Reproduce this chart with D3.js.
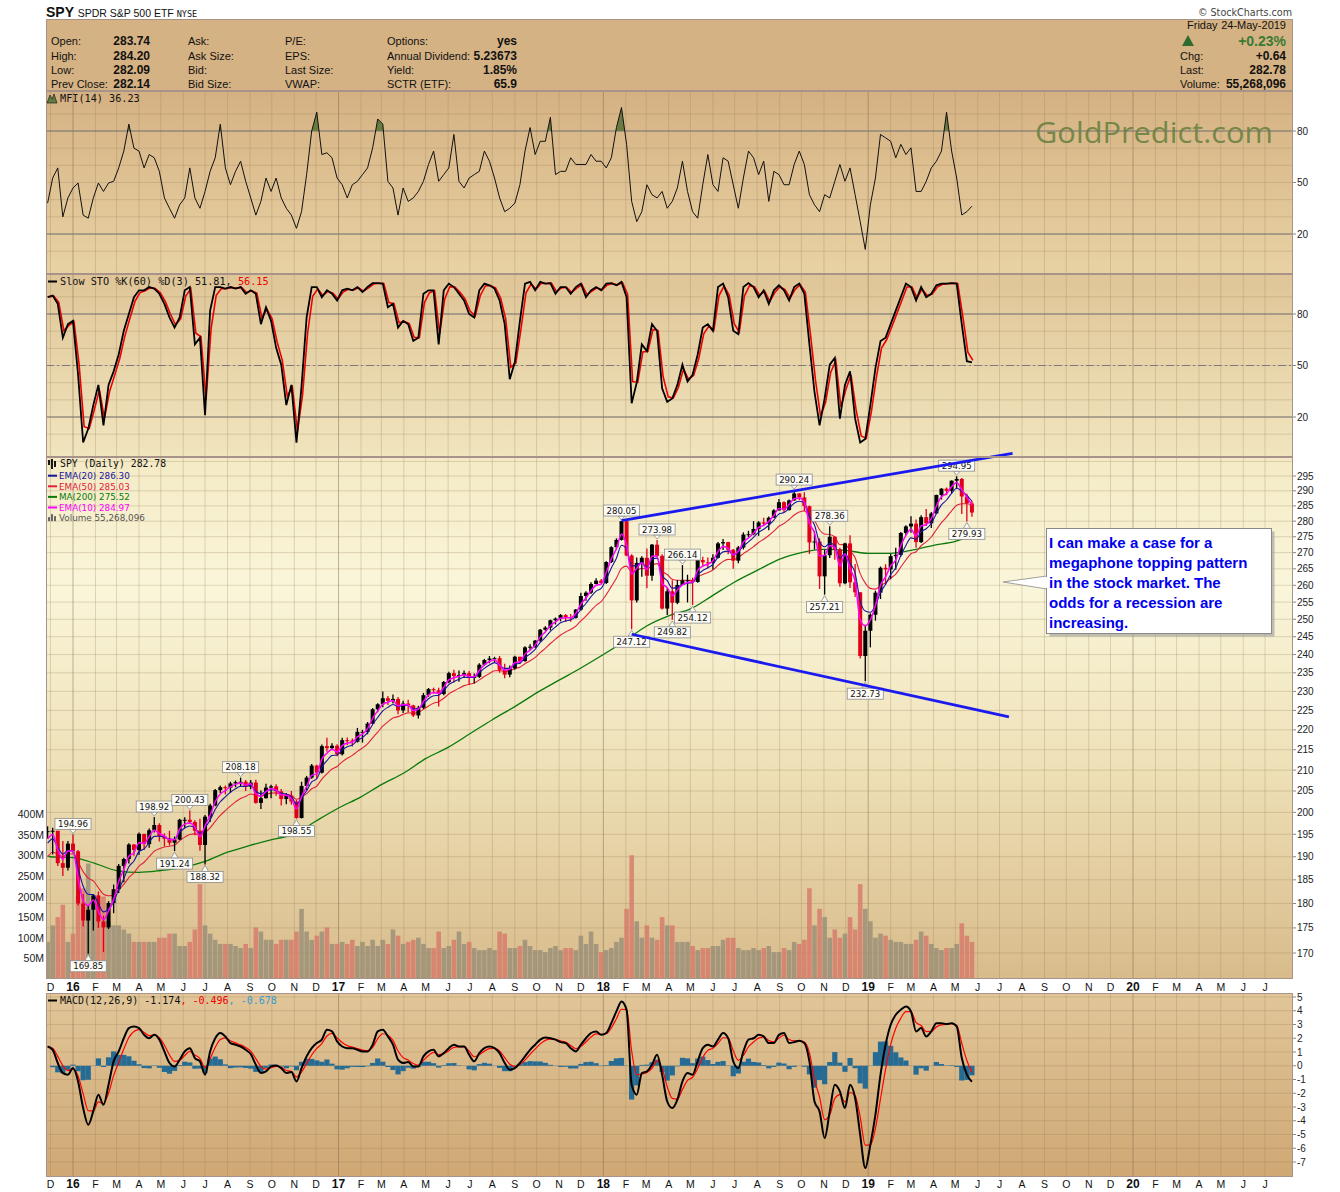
<!DOCTYPE html>
<html>
<head>
<meta charset="utf-8">
<title>SPY SPDR S&amp;P 500 ETF</title>
<script src="https://cdn.jsdelivr.net/npm/d3@7/dist/d3.min.js"></script>
<style>
  body { margin: 0; background: #fff; }
  text { font-family: "Liberation Sans", Arial, sans-serif; }
</style>
</head>
<body>
<script>
// weekly series, Fridays from 27-Nov-2015 to 24-May-2019 (183 weeks), prices dividend adjusted
var weekClose = [195.7,195.8,188.6,187.6,192.9,191.2,180.0,176.5,178.7,181.7,176.3,175.1,180.1,183.0,188.0,189.5,192.7,191.5,195.1,192.8,
  195.9,197.1,194.6,194.0,193.1,193.8,198.3,198.3,197.8,195.8,192.6,199.0,201.6,205.2,205.9,205.8,206.8,207.1,207.2,206.0,
  207.0,202.2,203.3,205.8,206.1,204.9,203.1,203.9,202.5,198.7,206.2,208.2,211.1,209.4,215.9,215.4,216.0,213.9,217.4,217.3,
  217.0,219.5,219.5,221.6,225.3,226.6,228.2,227.5,228.0,225.0,226.8,226.3,223.7,225.7,229.0,230.6,230.3,229.3,232.5,234.9,
  234.1,234.4,234.9,233.6,233.9,237.2,238.5,238.9,239.0,235.8,234.5,236.2,239.4,238.2,242.0,242.2,243.9,247.0,247.6,249.7,
  250.2,251.2,250.6,250.4,252.8,256.8,257.8,260.4,261.4,260.7,267.1,271.7,274.0,280.0,269.1,255.5,266.8,268.4,262.9,272.5,
  269.0,253.1,258.2,254.8,260.1,261.5,261.5,261.0,267.7,267.0,266.9,268.4,272.9,273.3,270.9,267.5,271.6,275.7,275.8,277.5,
  279.6,279.2,281.1,283.5,286.2,283.6,286.8,289.1,287.8,284.9,273.2,273.5,262.7,269.2,275.0,271.0,260.6,272.9,260.9,257.9,
  239.6,246.7,251.3,257.8,265.3,264.8,268.9,269.3,276.2,278.3,279.2,273.3,281.3,279.3,282.5,288.6,290.7,290.0,293.4,294.0,
  288.1,285.8,282.8];
var weekHigh = [196.8,196.5,195.0,193.5,193.5,194.96,191.5,182.0,179.5,182.0,182.5,177.5,180.5,184.0,188.4,189.8,193.0,192.8,195.4,195.0,
  196.3,198.92,197.5,195.2,195.8,194.5,198.5,198.9,200.43,198.2,198.5,199.4,202.0,205.5,206.3,206.3,207.2,207.5,208.18,207.6,
  207.6,207.7,205.1,206.7,206.5,206.6,205.5,204.5,205.0,202.9,207.2,208.6,211.5,211.3,216.3,218.0,216.6,216.4,218.0,218.1,
  217.8,220.5,220.0,222.0,225.6,226.9,230.0,228.8,229.2,228.5,227.5,227.8,226.5,226.2,229.6,230.9,231.0,231.0,232.8,235.3,
  235.8,235.6,235.6,235.5,234.8,237.6,238.8,239.6,239.4,239.6,237.5,237.0,239.7,239.4,242.3,242.9,244.1,247.2,248.0,249.9,
  250.5,251.5,251.5,251.5,253.0,257.8,258.2,260.9,262.1,261.9,267.3,272.0,274.5,280.05,280.0,269.5,268.5,268.9,271.3,272.7,
  273.98,269.5,259.2,261.5,261.6,266.14,263.2,262.3,268.0,268.7,268.5,269.5,273.3,274.3,273.4,271.1,272.1,276.4,276.9,280.0,
  280.0,281.1,281.5,283.9,287.3,286.5,287.1,290.24,289.2,289.5,285.1,276.8,274.5,270.9,278.36,275.1,271.5,273.1,275.5,266.5,
  258.0,248.2,251.7,258.4,265.7,266.4,269.6,271.5,276.5,278.7,281.6,280.5,281.9,284.0,283.0,288.7,290.9,291.1,293.5,294.95,
  294.3,289.0,286.6];
var weekLow = [194.0,190.5,188.0,185.8,187.0,190.8,179.6,175.3,169.85,174.5,175.0,170.2,174.8,178.0,182.2,184.5,188.5,190.2,190.4,191.5,
  192.0,195.4,193.4,192.3,192.5,191.24,193.7,196.5,197.4,194.8,191.3,188.32,197.8,201.4,204.5,204.2,204.6,205.9,206.0,205.0,
  205.4,202.0,200.8,203.2,203.3,203.9,201.6,201.9,201.8,198.55,198.6,205.2,207.9,208.0,209.2,214.5,215.0,213.4,213.6,216.2,
  215.8,216.8,216.8,218.9,221.5,224.5,225.8,226.4,226.8,224.0,224.3,224.6,223.3,222.9,225.4,228.6,229.4,226.0,229.0,232.2,
  232.4,232.6,233.6,231.8,232.1,233.6,236.9,237.6,237.9,235.0,233.5,233.8,235.8,237.4,238.0,241.3,241.8,243.6,246.7,246.8,
  248.5,249.4,249.2,249.3,250.2,252.5,255.4,257.4,260.3,260.5,260.4,266.8,271.0,273.8,268.9,247.12,254.9,262.6,259.1,261.4,
  268.6,252.8,251.2,249.82,254.4,260.2,254.9,254.12,260.8,265.7,265.2,264.8,268.2,270.8,269.5,265.0,266.7,271.0,274.8,275.5,
  275.3,278.4,277.1,281.0,283.5,283.0,283.5,286.7,286.9,283.3,269.6,271.0,258.9,257.21,268.3,267.8,259.6,260.3,259.2,256.5,
  238.9,232.73,242.0,249.6,255.9,260.2,261.8,264.7,268.8,275.5,276.3,271.5,273.0,278.4,277.8,282.3,287.1,288.5,289.2,290.7,
  282.3,279.93,281.4];
// volume, millions of shares a day
var weekVolume = [90,130,150,180,90,110,200,220,280,180,170,200,140,130,130,120,110,90,90,90,
  90,90,100,100,110,110,80,80,90,120,230,130,
  110,95,85,85,85,80,75,85,75,125,115,95,95,85,95,95,95,115,170,115,95,105,115,125,85,85,
  90,85,95,80,90,80,95,80,95,85,120,105,85,90,95,100,85,75,75,115,
  75,80,95,115,85,90,75,70,70,75,70,115,110,75,75,80,95,80,70,70,
  65,75,80,70,75,75,70,105,85,115,85,65,
  70,75,90,100,170,300,140,100,130,100,95,150,130,130,90,90,90,80,70,
  75,75,80,80,95,100,100,75,70,70,75,70,75,80,65,65,75,70,90,85,95,
  220,130,170,150,100,120,100,110,150,120,230,170,140,100,
  110,105,95,90,90,85,85,95,115,105,85,75,70,75,75,85,135,105,90];
var mfiValues = [38,52.6,58.5,30,41,46.8,49.7,31,29.2,41,49.7,44.8,49.7,50.7,58.5,68.3,84,70,68.3,58.5,
  66.3,64.4,56.5,41,35,29.2,37,41,58.5,41,35,44.8,56.5,64.4,84,58.5,48.7,56.5,62.4,50.7,
  41,31,39,52.6,44.8,52.6,41,35,31,23.3,33,54.6,80,91,66.3,67.3,64.4,52.6,48.7,41,
  48.7,50.7,54.6,58.5,70.2,87,84,50.7,46.8,31,46.8,39,41,44.8,50.7,60.5,68.3,50.7,54.6,58.5,
  78,50.7,46.8,52.6,54.6,56.5,68.3,62.4,52.6,41,33,35,38,48.7,68.3,82,66.3,74,74,88,
  54.6,56.5,56.5,64.4,60.5,60.5,60.5,66.3,62.4,62.4,58.5,64.4,82,93.7,72.2,39,27.2,33,48.7,42.9,
  41,44.8,35,39,46.8,62.4,44.8,33,29.2,48.7,66.3,48.7,44.8,64.4,62.4,48.7,35,52.6,68.3,64.4,
  54.6,62.4,39,56.5,54.6,48.7,48.7,60.5,68.3,60.5,42.9,37,33,42.9,41,50.7,60.5,50.7,58.5,42.9,
  27.2,11,37,52.6,78,76,74,64.4,72.2,66.3,70.2,44.8,44.8,50.7,58.5,62.4,68.3,91,68.3,52.6,
  31.1,33,36.2];
var stoK = [89.8,90.8,85.9,66.2,74.1,76,44.6,5.2,13.1,26.9,38.7,15.1,38.7,46.6,56.4,70.2,80,89.8,93.8,93.8,
  95.7,94.8,91.8,85.9,78,72.1,78,93.8,95.7,62.3,66.2,21,82,95.7,95.7,94.8,95.7,94.8,95.7,91.8,
  93.8,91.8,74.1,83.9,76,60.3,50.5,26.9,38.7,5,38,78,95.7,95.7,89.8,93.8,91.8,87.9,93.8,94.8,
  93.8,95.7,92.8,95.7,98,98,97.7,83.9,85.9,72.1,76,74.1,64.3,66.2,91.8,93.8,93.8,62.3,93.8,97.7,
  95.7,91.8,87.9,80,78,93.8,97.7,96.7,94.8,87.9,74.1,42,52,76,97.7,98.7,93.8,98.7,97.7,98,
  91.8,95.7,95.7,91.8,95.7,97.7,89.8,93.8,95.7,93.8,97.7,98,96.7,98.7,89.8,28,40,62.3,58.4,74.1,
  70.2,36.7,28.8,30.8,38.7,50.5,40.7,44.6,56.4,72.1,74.1,70.2,95.7,97.7,89.8,70.2,68.2,95.7,98,95.7,
  89.8,93.8,85.9,93.8,96.7,93.8,87.9,95.7,97.7,91.8,62.3,34.7,15.1,30.8,50.5,54.4,19,38.7,46.6,19,
  5.2,7.2,26.9,48.5,64.3,66.2,74.1,82,89.8,97.7,95.7,87.9,95.7,89.8,91.8,96.7,97.7,97.7,98,97.7,
  74.1,52.5,51.8];
var macdValues = [1.4,1.16,0.2,-0.53,-0.65,-0.17,-1.14,-3.08,-4.29,-3.3,-2.1,-2.84,-1.38,0.32,1.04,2.0,2.74,2.86,2.74,2.25,
  2.0,2.25,1.9,1.04,0.2,-0.05,0.44,1.04,1.28,0.56,0.32,-0.65,1.04,2.0,2.38,2.13,1.65,1.53,1.4,1.16,
  0.85,0.07,-0.53,-0.41,-0.05,0.02,-0.17,-0.53,-0.46,-1.14,-0.17,0.68,1.28,1.65,1.9,2.62,2.5,1.77,1.4,1.28,
  1.28,1.16,1.04,1.04,1.53,2.5,2.62,2.13,1.53,0.44,0.2,0.27,-0.05,-0.05,0.68,1.04,1.16,0.68,0.92,1.28,
  1.53,1.4,1.4,0.8,0.32,0.92,1.28,1.4,1.28,0.92,0.2,-0.29,-0.17,0.2,0.68,1.16,1.53,1.9,2.06,2.0,
  1.9,1.72,1.65,1.28,1.04,1.53,2.0,2.38,2.5,2.25,2.38,3.1,3.95,4.68,4.07,-1.38,-2.1,-0.53,-0.41,0.07,
  0.8,-0.65,-2.6,-3.08,-2.47,-1.14,-0.53,-0.65,0.32,1.28,1.53,1.4,1.9,2.38,2.0,0.32,-0.17,1.04,1.9,2.0,
  2.25,2.13,1.65,1.65,2.25,2.38,1.65,1.72,1.82,1.65,0.32,-2.6,-3.32,-5.26,-3.32,-1.38,-1.87,-3.08,-1.38,-2.35,
  -5.02,-7.44,-5.75,-3.56,-0.65,1.53,2.98,3.71,4.07,4.31,3.95,2.5,2.74,2.13,2.5,3.1,3.1,3.03,3.1,2.86,
  0.56,-0.65,-1.17];

// 200-day moving average
var ma200Dates = ["2015-11-27","2015-12-01","2016-01-01","2016-02-01","2016-03-01","2016-04-01","2016-05-01","2016-06-01","2016-07-01","2016-08-01",
  "2016-09-01","2016-10-01","2016-11-01","2016-12-01","2017-01-01","2017-02-01","2017-03-01","2017-04-01","2017-05-01","2017-06-01",
  "2017-07-01","2017-08-01","2017-09-01","2017-10-01","2017-11-01","2017-12-01","2018-01-01","2018-02-01","2018-03-01","2018-04-01",
  "2018-05-01","2018-06-01","2018-07-01","2018-08-01","2018-09-01","2018-10-01","2018-11-01","2018-12-01","2019-01-01","2019-02-01",
  "2019-03-01","2019-04-01","2019-05-01","2019-05-24"];
var ma200Values = [190.2,190,189.8,188.5,187,186.6,187,187.7,189,191,
  192.5,193.8,195,198,201,203.6,206.5,209.3,212.8,215.6,
  219,222.6,226,229.6,233,236.3,240,244,248,251,
  253,257,261,264.5,268,270,271,270.7,269.8,269.8,
  270.7,272.3,273.5,275.5];
var emaSeeds = [194, 193, 190]; // EMA(10), EMA(20), EMA(50) at the first week

// marked highs (h) and lows (l): week index
var priceTags = [[5,"h"],[8,"l"],[21,"h"],[25,"l"],[28,"h"],[31,"l"],[38,"h"],[49,"l"],[113,"h"],[115,"l"],
  [120,"h"],[123,"l"],[125,"h"],[127,"l"],[147,"h"],[153,"l"],[154,"h"],[161,"l"],[179,"h"],[181,"l"]];
// megaphone trend lines [date, price]
var upperTrend = [["2018-01-26", 280.2], ["2019-07-19", 302.8]];
var lowerTrend = [["2018-02-09", 245.7], ["2019-07-14", 223.3]];

var priceTicks = d3.range(170, 300, 5);
var volumeTicks = [50,100,150,200,250,300,350,400];
var macdTicks = d3.range(-7, 6, 1);
var oscTicks = [20, 50, 80];

var quoteRows = [["Open:", "283.74", "Ask:", "P/E:", "Options:", "yes"],
  ["High:", "284.20", "Ask Size:", "EPS:", "Annual Dividend:", "5.23673"],
  ["Low:", "282.09", "Bid:", "Last Size:", "Yield:", "1.85%"],
  ["Prev Close:", "282.14", "Bid Size:", "VWAP:", "SCTR (ETF):", "65.9"]];
var legendLines = ["EMA(20) 286.30", "EMA(50) 285.03", "MA(200) 275.52", "EMA(10) 284.97", "Volume 55,268,096"];
var noteLines = ["I can make a case for a", "megaphone topping pattern", "in the stock market. The", "odds for a recession are", "increasing."];

var parseDate = d3.timeParse("%Y-%m-%d");
var weekDates = d3.timeFriday.range(new Date(2015, 10, 27), new Date(2019, 4, 25));
var n = Math.min(weekDates.length, weekClose.length);
var weeks = d3.range(n).map(function(i) {
  return { date: weekDates[i], open: i ? weekClose[i - 1] : weekClose[0], close: weekClose[i],
           high: weekHigh[i], low: weekLow[i], vol: weekVolume[i], mfi: mfiValues[i], k: stoK[i], macd: macdValues[i] };
});

// moving averages on the weekly closes (daily spans converted to weeks)
function ema(vals, a, seed) {
  var e = seed;
  return vals.map(function(v, i) { if (i > 0) e = e + a * (v - e); return e; });
}
var closes = weeks.map(function(d) { return d.close; });
var ema10 = ema(closes, 0.53, emaSeeds[0]);
var ema20 = ema(closes, 0.345, emaSeeds[1]);
var ema50 = ema(closes, 0.17, emaSeeds[2]);
var stoD = ema(weeks.map(function(d) { return d.k; }), 0.8, weeks[0].k);
var signal = ema(weeks.map(function(d) { return d.macd; }), 0.55, weeks[0].macd);
weeks.forEach(function(d, i) { d.e10 = ema10[i]; d.e20 = ema20[i]; d.e50 = ema50[i]; d.d = stoD[i]; d.sig = signal[i]; d.hist = d.macd - signal[i]; });

var L = 46, R = 1293;
var panels = {
  mfi:   { top: 91,  bottom: 274 },
  sto:   { top: 274, bottom: 457 },
  price: { top: 457, bottom: 979 },
  macd:  { top: 993, bottom: 1177 }
};

var x = d3.scaleTime().domain([new Date(2016, 0, 1), new Date(2020, 0, 1)]).range([73, 1133]);
var yPrice = d3.scaleLog().domain([170, 295]).range([953, 476]);
var yVol = d3.scaleLinear().domain([0, 400]).range([979, 814]);
var yMfi = d3.scaleLinear().domain([20, 80]).range([234, 131]);
var ySto = d3.scaleLinear().domain([20, 80]).range([417, 314]);
var yMacd = d3.scaleLinear().domain([-7, 5]).range([1162, 997]);

var svg = d3.select("body").append("svg")
  .attr("width", 1340).attr("height", 1192).style("display", "block");
var defs = svg.append("defs");

function addGradient(id, stops) {
  var g = defs.append("linearGradient").attr("id", id)
    .attr("x1", 0).attr("y1", 0).attr("x2", 0).attr("y2", 1);
  stops.forEach(function(s) { g.append("stop").attr("offset", s[0]).attr("stop-color", s[1]); });
}
addGradient("g-mfi", [[0, "#d5b182"], [1, "#e8d2a4"]]);
addGradient("g-sto", [[0, "#dfc597"], [1, "#f1e5be"]]);
addGradient("g-price", [[0, "#f4eac5"], [0.25, "#faf6da"], [0.6, "#eee0b6"], [1, "#d8bb8b"]]);
addGradient("g-macd", [[0, "#e1c699"], [1, "#cfa874"]]);

Object.keys(panels).forEach(function(k) {
  var p = panels[k];
  defs.append("clipPath").attr("id", "clip-" + k).append("rect")
    .attr("x", L).attr("y", p.top).attr("width", R - L).attr("height", p.bottom - p.top);
});
defs.append("clipPath").attr("id", "clip-over80").append("rect")
  .attr("x", L).attr("y", panels.mfi.top).attr("width", R - L).attr("height", yMfi(80) - panels.mfi.top);

var months = d3.timeMonth.range(new Date(2015, 11, 1), new Date(2020, 7, 1))
  .filter(function(d) { return x(d) > L && x(d) < R; });

// panel backgrounds and grids
function drawPanel(key, grad, hLines) {
  var p = panels[key];
  var g = svg.append("g");
  g.append("rect").attr("x", L).attr("y", p.top).attr("width", R - L).attr("height", p.bottom - p.top)
    .attr("fill", "url(#" + grad + ")");
  g.selectAll("line.v").data(months).enter().append("line")
    .attr("x1", function(d) { return x(d); }).attr("x2", function(d) { return x(d); })
    .attr("y1", p.top).attr("y2", p.bottom)
    .attr("stroke", function(d) { return d.getMonth() === 0 ? "rgba(120,95,70,0.45)" : "rgba(150,125,90,0.28)"; })
    .attr("stroke-width", 1);
  g.selectAll("line.h").data(hLines).enter().append("line")
    .attr("x1", L).attr("x2", R).attr("y1", function(d) { return d; }).attr("y2", function(d) { return d; })
    .attr("stroke", "rgba(150,125,90,0.28)").attr("stroke-width", 1);
  return g;
}
drawPanel("mfi", "g-mfi", d3.range(10, 100, 10).map(yMfi));
drawPanel("sto", "g-sto", d3.range(10, 100, 10).map(ySto));
drawPanel("price", "g-price", priceTicks.map(yPrice).concat([yPrice(300)]));
drawPanel("macd", "g-macd", macdTicks.map(yMacd));

// right axis labels
function rightAxis(vals, scale) {
  var g = svg.append("g");
  vals.forEach(function(v) {
    g.append("line").attr("x1", R).attr("x2", R + 3).attr("y1", scale(v)).attr("y2", scale(v))
      .attr("stroke", "#888");
    g.append("text").attr("x", R + 4).attr("y", scale(v) + 3.5)
      .style("font-size", "10px").attr("fill", "#222").text(v);
  });
}
rightAxis(oscTicks, yMfi);
rightAxis(oscTicks, ySto);
rightAxis(priceTicks, yPrice);
rightAxis(macdTicks, yMacd);

// volume axis on the left
svg.append("g").selectAll("text").data(volumeTicks).enter().append("text")
  .attr("x", 44).attr("y", function(d) { return yVol(d) + 4; })
  .attr("text-anchor", "end").style("font-size", "10.5px").attr("fill", "#222")
  .text(function(d) { return d + "M"; });

// ---------- MFI ----------
var mfiG = svg.append("g").attr("clip-path", "url(#clip-mfi)");
[20, 80].forEach(function(v) {
  mfiG.append("line").attr("x1", L).attr("x2", R).attr("y1", yMfi(v)).attr("y2", yMfi(v))
    .attr("stroke", "#777").attr("stroke-width", 1.2);
});
mfiG.append("path").datum(weeks).attr("clip-path", "url(#clip-over80)")
  .attr("fill", "#687c40")
  .attr("d", d3.area().x(function(d) { return x(d.date); }).y0(yMfi(80)).y1(function(d) { return yMfi(d.mfi); }));
mfiG.append("path").datum(weeks).attr("fill", "none").attr("stroke", "#111").attr("stroke-width", 1)
  .attr("d", d3.line().x(function(d) { return x(d.date); }).y(function(d) { return yMfi(d.mfi); }));

// ---------- Slow stochastic ----------
var stoG = svg.append("g").attr("clip-path", "url(#clip-sto)");
[20, 80].forEach(function(v) {
  stoG.append("line").attr("x1", L).attr("x2", R).attr("y1", ySto(v)).attr("y2", ySto(v))
    .attr("stroke", "#777").attr("stroke-width", 1.2);
});
stoG.append("line").attr("x1", L).attr("x2", R).attr("y1", ySto(50)).attr("y2", ySto(50))
  .attr("stroke", "#7a7a80").attr("stroke-width", 1).attr("stroke-dasharray", "8,3,2,3");
stoG.append("path").datum(weeks).attr("fill", "none").attr("stroke", "#ee0000").attr("stroke-width", 1.6)
  .attr("d", d3.line().x(function(d) { return x(d.date) + 1; }).y(function(d) { return ySto(d.d); }));
stoG.append("path").datum(weeks).attr("fill", "none").attr("stroke", "#000").attr("stroke-width", 1.8)
  .attr("d", d3.line().x(function(d) { return x(d.date); }).y(function(d) { return ySto(d.k); }));

// ---------- Price ----------
var priceG = svg.append("g").attr("clip-path", "url(#clip-price)");
priceG.selectAll("rect.vol").data(weeks).enter().append("rect")
  .attr("x", function(d) { return x(d.date) - 2.3; }).attr("width", 4.6)
  .attr("y", function(d) { return yVol(d.vol); })
  .attr("height", function(d) { return yVol(0) - yVol(d.vol); })
  .attr("fill", function(d) { return d.close < d.open ? "rgba(214,118,104,0.78)" : "rgba(150,140,118,0.78)"; });

var ma200 = ma200Dates.map(function(s, i) { return { date: parseDate(s), v: ma200Values[i] }; });
priceG.append("path").datum(ma200).attr("fill", "none").attr("stroke", "#0a7a0a").attr("stroke-width", 1.3)
  .attr("d", d3.line().curve(d3.curveMonotoneX).x(function(d) { return x(d.date); }).y(function(d) { return yPrice(d.v); }));
function maLine(key, color, width) {
  priceG.append("path").datum(weeks).attr("fill", "none").attr("stroke", color).attr("stroke-width", width)
    .attr("d", d3.line().curve(d3.curveMonotoneX).x(function(d) { return x(d.date); }).y(function(d) { return yPrice(d[key]); }));
}
maLine("e50", "#e3203a", 1.1);

var candle = priceG.selectAll("g.c").data(weeks).enter().append("g");
candle.append("line")
  .attr("x1", function(d) { return x(d.date); }).attr("x2", function(d) { return x(d.date); })
  .attr("y1", function(d) { return yPrice(d.high); }).attr("y2", function(d) { return yPrice(d.low); })
  .attr("stroke", function(d) { return d.close < d.open ? "#e0001c" : "#000"; }).attr("stroke-width", 1.3);
candle.append("rect")
  .attr("x", function(d) { return x(d.date) - 2; }).attr("width", 4)
  .attr("y", function(d) { return yPrice(Math.max(d.open, d.close)); })
  .attr("height", function(d) { return Math.max(1, Math.abs(yPrice(d.open) - yPrice(d.close))); })
  .attr("fill", function(d) { return d.close < d.open ? "#e0001c" : "#000"; });

maLine("e20", "#1616a0", 1.1);
maLine("e10", "#ff00ff", 1.5);

// high / low tags
var tagG = svg.append("g");
priceTags.forEach(function(t) {
  var d = weeks[t[0]], high = t[1] === "h";
  var v = high ? d.high : d.low;
  var cx = x(d.date), cy = yPrice(v);
  var g = tagG.append("g");
  var txt = g.append("text").attr("x", cx).attr("text-anchor", "middle")
    .style("font-family", "'DejaVu Sans', Verdana, sans-serif").style("font-size", "8.6px").attr("fill", "#111")
    .text(v.toFixed(2));
  var w = txt.node().getComputedTextLength() + 6, h = 11;
  var by = high ? cy - 5 - h : cy + 7;
  txt.attr("y", by + 8.6);
  var tri = high ? [[cx - 3.5, by + h], [cx + 3.5, by + h], [cx, cy - 1]] : [[cx - 3.5, by], [cx + 3.5, by], [cx, cy + 1]];
  g.insert("polygon", "text").attr("points", tri.join(" ")).attr("fill", "#fdfcf7").attr("stroke", "#8c8c8c").attr("stroke-width", 0.8);
  g.insert("rect", "text").attr("x", cx - w / 2).attr("y", by).attr("width", w).attr("height", h)
    .attr("fill", "#fdfcf7").attr("stroke", "#8c8c8c").attr("stroke-width", 0.8);
});

// megaphone lines
[upperTrend, lowerTrend].forEach(function(tl) {
  svg.append("line")
    .attr("x1", x(parseDate(tl[0][0]))).attr("y1", yPrice(tl[0][1]))
    .attr("x2", x(parseDate(tl[1][0]))).attr("y2", yPrice(tl[1][1]))
    .attr("stroke", "#1a1af0").attr("stroke-width", 2.8);
});

// ---------- MACD ----------
var macdG = svg.append("g").attr("clip-path", "url(#clip-macd)");
macdG.selectAll("rect.h").data(weeks).enter().append("rect")
  .attr("x", function(d) { return x(d.date) - 2.6; }).attr("width", 5.2)
  .attr("y", function(d) { return Math.min(yMacd(0), yMacd(d.hist)); })
  .attr("height", function(d) { return Math.abs(yMacd(d.hist) - yMacd(0)); })
  .attr("fill", "#266b93");
macdG.append("path").datum(weeks).attr("fill", "none").attr("stroke", "#ff0000").attr("stroke-width", 1.2)
  .attr("d", d3.line().curve(d3.curveMonotoneX).x(function(d) { return x(d.date); }).y(function(d) { return yMacd(d.sig); }));
macdG.append("path").datum(weeks).attr("fill", "none").attr("stroke", "#000").attr("stroke-width", 2)
  .attr("d", d3.line().curve(d3.curveMonotoneX).x(function(d) { return x(d.date); }).y(function(d) { return yMacd(d.macd); }));

// panel borders
Object.keys(panels).forEach(function(k) {
  var p = panels[k];
  svg.append("rect").attr("x", L + 0.5).attr("y", p.top + 0.5).attr("width", R - L - 1).attr("height", p.bottom - p.top - 1)
    .attr("fill", "none").attr("stroke", "#a8938a").attr("stroke-width", 1);
});

// month labels
var fmtYear = d3.timeFormat("%y");
[986.5, 1184].forEach(function(cy) {
  svg.append("g").selectAll("text").data(months).enter().append("text")
    .attr("x", function(d) { return x(d); }).attr("y", cy + 4).attr("text-anchor", "middle")
    .style("font-size", function(d) { return d.getMonth() === 0 ? "12px" : "10.5px"; })
    .style("font-weight", function(d) { return d.getMonth() === 0 ? "bold" : "normal"; })
    .attr("fill", "#111")
    .text(function(d) { return d.getMonth() === 0 ? fmtYear(d) : "JFMAMJJASOND"[d.getMonth()]; });
});

// ---------- panel titles / legends ----------
var mono = "'DejaVu Sans Mono', monospace";
svg.append("polygon").attr("points", "47,103 50,95 52,99 54,94 57,103").attr("fill", "#5f7a3c").attr("stroke", "#222").attr("stroke-width", 0.7);
svg.append("text").attr("x", 60).attr("y", 102).style("font-family", mono).style("font-size", "10.2px").attr("fill", "#111").text("MFI(14) 36.23");

svg.append("line").attr("x1", 48).attr("x2", 57).attr("y1", 281.5).attr("y2", 281.5).attr("stroke", "#000").attr("stroke-width", 2);
var stoT = svg.append("text").attr("x", 60).attr("y", 285).style("font-family", mono).style("font-size", "10.2px").attr("fill", "#111");
stoT.append("tspan").text("Slow STO %K(60) %D(3) 51.81, ");
stoT.append("tspan").attr("fill", "#ee0000").text("56.15");

svg.append("line").attr("x1", 48).attr("x2", 57).attr("y1", 1000.5).attr("y2", 1000.5).attr("stroke", "#000").attr("stroke-width", 2);
var macdT = svg.append("text").attr("x", 60).attr("y", 1004).style("font-family", mono).style("font-size", "10px").attr("fill", "#111");
macdT.append("tspan").text("MACD(12,26,9) -1.174");
macdT.append("tspan").attr("fill", "#ee0000").text(", -0.496");
macdT.append("tspan").attr("fill", "#3a9ad0").text(", -0.678");

// price legend
[[49, 460, 464], [52, 459, 468], [55, 461, 466]].forEach(function(c) {
  svg.append("line").attr("x1", c[0]).attr("x2", c[0]).attr("y1", c[1]).attr("y2", c[2] + 1).attr("stroke", "#000").attr("stroke-width", 1.8);
});
svg.append("text").attr("x", 60).attr("y", 467).style("font-family", mono).style("font-size", "9.8px").attr("fill", "#111").text("SPY (Daily) 282.78");
var legendColors = ["#1616a0", "#e3203a", "#0a7a0a", "#ff00ff", "#555"];
legendLines.forEach(function(s, i) {
  var cy = 475.7 + i * 10.6;
  if (i < 4) {
    svg.append("line").attr("x1", 48).attr("x2", 57).attr("y1", cy).attr("y2", cy).attr("stroke", legendColors[i]).attr("stroke-width", 2);
  } else {
    [[48, 4], [51, 7], [54, 5]].forEach(function(b) {
      svg.append("rect").attr("x", b[0]).attr("y", cy + 3 - b[1]).attr("width", 2).attr("height", b[1]).attr("fill", "#666");
    });
  }
  svg.append("text").attr("x", 59).attr("y", cy + 3.2).style("font-family", "'DejaVu Sans', Verdana, sans-serif")
    .style("font-size", "8.8px").attr("fill", legendColors[i]).text(s);
});

// ---------- header ----------
var title = svg.append("text").attr("x", 46).attr("y", 16.5).attr("fill", "#111");
title.append("tspan").style("font-size", "14px").style("font-weight", "bold").text("SPY ");
title.append("tspan").style("font-size", "10.5px").text("SPDR S&P 500 ETF ");
title.append("tspan").style("font-family", mono).style("font-size", "8.5px").text("NYSE");
svg.append("text").attr("x", 1292).attr("y", 15.5).attr("text-anchor", "end")
  .style("font-family", "'DejaVu Sans', Verdana, sans-serif").style("font-size", "9.6px").attr("fill", "#444").text("\u00a9 StockCharts.com");

svg.append("rect").attr("x", 46.5).attr("y", 19.5).attr("width", R - L - 1).attr("height", 71)
  .attr("fill", "#d5b283").attr("stroke", "#a8938a");
var rowY = [45, 59.5, 74, 88];
quoteRows.forEach(function(r, i) {
  var y = rowY[i];
  svg.append("text").attr("x", 51).attr("y", y).style("font-size", "11px").attr("fill", "#111").text(r[0]);
  svg.append("text").attr("x", 150).attr("y", y).attr("text-anchor", "end").style("font-size", "12px").style("font-weight", "bold").attr("fill", "#111").text(r[1]);
  svg.append("text").attr("x", 188).attr("y", y).style("font-size", "11px").attr("fill", "#111").text(r[2]);
  svg.append("text").attr("x", 285).attr("y", y).style("font-size", "11px").attr("fill", "#111").text(r[3]);
  svg.append("text").attr("x", 387).attr("y", y).style("font-size", "11px").attr("fill", "#111").text(r[4]);
  svg.append("text").attr("x", 517).attr("y", y).attr("text-anchor", "end").style("font-size", "12px").style("font-weight", "bold").attr("fill", "#111").text(r[5]);
});
svg.append("text").attr("x", 1187).attr("y", 29).style("font-size", "11px").attr("fill", "#111").text("Friday");
svg.append("text").attr("x", 1286).attr("y", 29).attr("text-anchor", "end").style("font-size", "11px").attr("fill", "#111").text("24-May-2019");
svg.append("polygon").attr("points", "1182,46 1194,46 1188,35").attr("fill", "#2f6b2f");
svg.append("text").attr("x", 1286).attr("y", 46).attr("text-anchor", "end").style("font-size", "14px").style("font-weight", "bold").attr("fill", "#3a7a35").text("+0.23%");
[["Chg:", "+0.64"], ["Last:", "282.78"], ["Volume:", "55,268,096"]].forEach(function(r, i) {
  svg.append("text").attr("x", 1180).attr("y", rowY[i + 1]).style("font-size", "11px").attr("fill", "#111").text(r[0]);
  svg.append("text").attr("x", 1286).attr("y", rowY[i + 1]).attr("text-anchor", "end").style("font-size", "12px").style("font-weight", "bold").attr("fill", "#111").text(r[1]);
});

// watermark
svg.append("text").attr("x", 1035).attr("y", 143).attr("textLength", 238).attr("lengthAdjust", "spacingAndGlyphs")
  .style("font-family", "'Open Sans', 'DejaVu Sans', sans-serif").style("font-size", "30px").attr("fill", "#6c8241").attr("fill-opacity", 0.92)
  .text("GoldPredict.com");

// annotation callout
var note = svg.append("g");
note.append("rect").attr("x", 1049.5).attr("y", 531.5).attr("width", 225).attr("height", 105).attr("fill", "#9a9a9a").attr("opacity", 0.6);
note.append("polygon").attr("points", "1003,582 1047,576 1047,589").attr("fill", "#fff").attr("stroke", "#8a8a8a").attr("stroke-width", 0.8);
note.append("rect").attr("x", 1046.5).attr("y", 528.5).attr("width", 225).attr("height", 105).attr("fill", "#fff").attr("stroke", "#8a8a8a");
note.append("line").attr("x1", 1046.5).attr("x2", 1046.5).attr("y1", 577).attr("y2", 588).attr("stroke", "#fff").attr("stroke-width", 1.5);
noteLines.forEach(function(s, i) {
  note.append("text").attr("x", 1049).attr("y", 548 + i * 20).style("font-size", "15px").style("font-weight", "bold")
    .attr("fill", "#0000ee").text(s);
});
</script>
</body>
</html>
